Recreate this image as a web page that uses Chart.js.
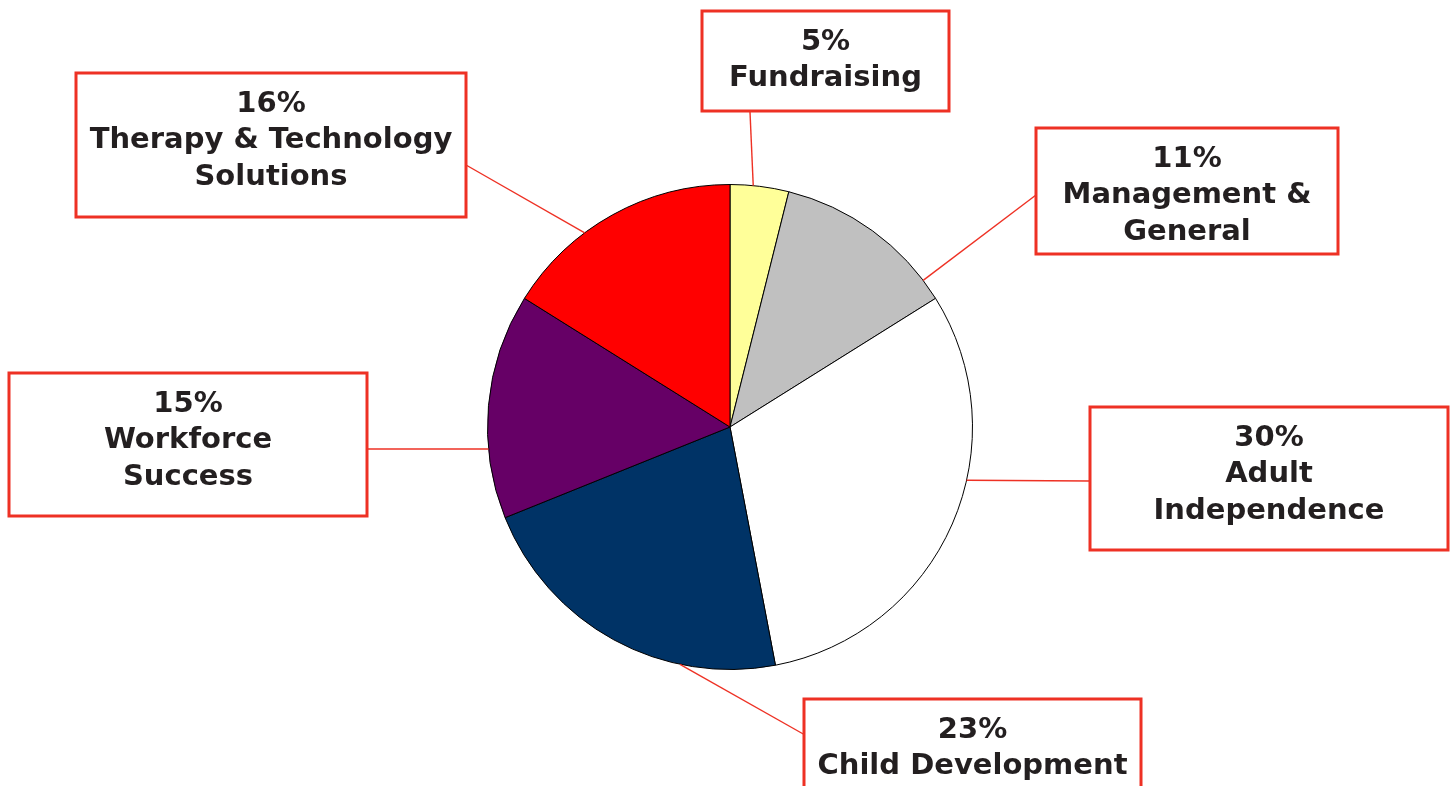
<!DOCTYPE html>
<html>
<head>
<meta charset="utf-8">
<script src="https://cdn.jsdelivr.net/npm/chart.js@4.4.1/dist/chart.umd.min.js"></script>
<style>
  html, body { margin: 0; padding: 0; background: #fff; overflow: hidden; }
  #pieChart { display: block; }
</style>
</head>
<body>
<canvas id="pieChart" width="1456" height="786"></canvas>
<script>
"use strict";

// Data
const categories = ["Fundraising", "Management & General", "Adult Independence",
  "Child Development", "Workforce Success", "Therapy & Technology Solutions"];
const sliceValues = [3.9, 12.2, 30.9, 21.9, 15.0, 16.1];
const percentLabels = ["5%", "11%", "30%", "23%", "15%", "16%"];
const labelLines = [
  ["Fundraising"],
  ["Management &", "General"],
  ["Adult", "Independence"],
  ["Child Development"],
  ["Workforce", "Success"],
  ["Therapy & Technology", "Solutions"]
];
const sliceColors = ["#FFFF99", "#C0C0C0", "#FFFFFF", "#003366", "#660066", "#FF0000"];

// Label boxes: box rect, anchor for leader line, angle on the pie edge (deg from top)
const boxes = [
  { x: 702, y: 11, w: 247, h: 100, ax: 750, ay: 112, deg: 5.5 },
  { x: 1036, y: 128, w: 302, h: 126, ax: 1036, ay: 195, deg: 52.8 },
  { x: 1090, y: 407, w: 358, h: 143, ax: 1090, ay: 481, deg: 102.7 },
  { x: 804, y: 699, w: 337, h: 120, ax: 805, ay: 735, deg: 191.9 },
  { x: 9, y: 373, w: 358, h: 143, ax: 368, ay: 449, deg: 264.8 },
  { x: 76, y: 73, w: 390, h: 144, ax: 466, ay: 165, deg: 323.2 }
];

//Plugin som ritar rutor och linjer
const calloutPlugin = {
  id: "callouts",
  afterDraw(chart) {
    const ctx = chart.ctx;
    const arc = chart.getDatasetMeta(0).data[0];
    const cx = arc.x;
    const cy = arc.y;
    const r = arc.outerRadius;

    ctx.save();
    //Linjer
    ctx.strokeStyle = "#EE3124";
    ctx.lineWidth = 1.4;
    boxes.forEach(function (b) {
      const a = b.deg * Math.PI / 180;
      ctx.beginPath();
      ctx.moveTo(b.ax, b.ay);
      ctx.lineTo(cx + r * Math.sin(a), cy - r * Math.cos(a));
      ctx.stroke();
    });

    //Rutor och text
    boxes.forEach(function (b, i) {
      ctx.fillStyle = "#FFFFFF";
      ctx.fillRect(b.x, b.y, b.w, b.h);
      ctx.strokeStyle = "#EE3124";
      ctx.lineWidth = 3;
      ctx.strokeRect(b.x, b.y, b.w, b.h);

      const lines = [percentLabels[i]].concat(labelLines[i]);
      ctx.fillStyle = "#231F20";
      ctx.font = "bold 29px 'DejaVu Sans', sans-serif";
      ctx.textAlign = "center";
      ctx.textBaseline = "middle";
      lines.forEach(function (t, j) {
        ctx.fillText(t, b.x + b.w / 2, b.y + 31 + j * 36.7);
      });
    });
    ctx.restore();
  }
};

const ctx1 = document.getElementById("pieChart");

new Chart(ctx1, {
  type: "pie",
  data: {
    labels: categories,
    datasets: [
      {
        data: sliceValues,
        backgroundColor: sliceColors,
        borderColor: "#000000",
        borderWidth: 1,
      },
    ],
  },
  options: {
    responsive: false,
    animation: false,
    layout: {
      padding: { left: 487, right: 483, top: 184, bottom: 116 },
    },
    plugins: {
      legend: { display: false },
      tooltip: { enabled: false },
    },
  },
  plugins: [calloutPlugin],
});
</script>
</body>
</html>
